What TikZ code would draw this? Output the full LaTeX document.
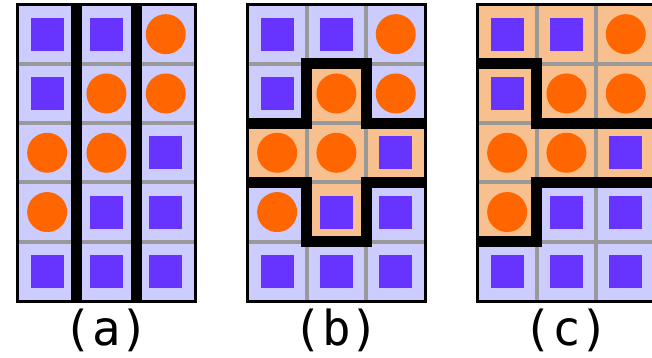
\documentclass[tikz,border=0pt]{standalone}
\usepackage{fontspec}
\newfontfamily\labelfont{DejaVu Sans Mono}
\definecolor{lav}{HTML}{CCCCFF}
\definecolor{peach}{HTML}{F9C08F}
\definecolor{purp}{HTML}{6633FF}
\definecolor{orng}{HTML}{FF6600}
\definecolor{gridgray}{HTML}{999999}
\tikzset{
  gridline/.style={draw=gridgray, line width=4pt},
  cutline/.style={draw=black, line width=11pt, line join=miter, line cap=butt},
  frameline/.style={draw=black, line width=3pt},
  sq/.style={fill=purp},
  dot/.style={fill=orng},
  panellabel/.style={font=\labelfont\fontsize{43}{43}\selectfont, inner sep=0pt, xscale=1.1, yscale=1.12}
}
\begin{document}
\begin{tikzpicture}[x=1pt,y=-1pt]
\useasboundingbox (0,0) rectangle (652,357);
\clip (0,0) rectangle (652,357);
\def\s{59.3}
\def\Y{4.5}
% ---------- backgrounds ----------
\foreach \X in {17.5,247.5,477.5}{
  \fill[lav] (\X,\Y) rectangle ({\X+3*\s},{\Y+5*\s});
}
% panel b orange plus
\def\X{247.5}
\fill[peach] ({\X+\s},{\Y+\s}) rectangle ({\X+2*\s},{\Y+4*\s});
\fill[peach] (\X,{\Y+2*\s}) rectangle ({\X+3*\s},{\Y+3*\s});
% panel c orange
\def\X{477.5}
\fill[peach] (\X,\Y) rectangle ({\X+3*\s},{\Y+3*\s});
\fill[peach] (\X,{\Y+3*\s}) rectangle ({\X+\s},{\Y+4*\s});
% ---------- gray grid lines ----------
\foreach \X in {17.5,247.5,477.5}{
  \foreach \k in {1,2,3,4}{
    \draw[gridline] (\X,{\Y+\k*\s}) -- ({\X+3*\s},{\Y+\k*\s});
  }
}
\foreach \X in {247.5,477.5}{
  \foreach \k in {1,2}{
    \draw[gridline] ({\X+\k*\s},\Y) -- ({\X+\k*\s},{\Y+5*\s});
  }
}
% ---------- symbols ----------
\foreach \X in {17.5,247.5,477.5}{
  \foreach \r/\c in {1/1,1/2,2/1,3/3,4/2,4/3,5/1,5/2,5/3}{
    \fill[sq] ({\X+(\c-0.5)*\s-16.5},{\Y+(\r-0.5)*\s-16.5}) rectangle ++(33,33);
  }
  \foreach \r/\c in {1/3,2/2,2/3,3/1,3/2,4/1}{
    \fill[dot] ({\X+(\c-0.5)*\s},{\Y+(\r-0.5)*\s}) circle[radius=20];
  }
}
% ---------- thick separating lines ----------
\def\X{17.5}
\draw[cutline] ({\X+\s},\Y) -- ({\X+\s},{\Y+5*\s});
\draw[cutline] ({\X+2*\s},\Y) -- ({\X+2*\s},{\Y+5*\s});
\def\X{247.5}
\draw[cutline] (\X,{\Y+2*\s}) -- ({\X+\s},{\Y+2*\s}) -- ({\X+\s},{\Y+\s}) -- ({\X+2*\s},{\Y+\s}) -- ({\X+2*\s},{\Y+2*\s}) -- ({\X+3*\s},{\Y+2*\s});
\draw[cutline] (\X,{\Y+3*\s}) -- ({\X+\s},{\Y+3*\s}) -- ({\X+\s},{\Y+4*\s}) -- ({\X+2*\s},{\Y+4*\s}) -- ({\X+2*\s},{\Y+3*\s}) -- ({\X+3*\s},{\Y+3*\s});
\def\X{477.5}
\draw[cutline] (\X,{\Y+\s}) -- ({\X+\s},{\Y+\s}) -- ({\X+\s},{\Y+2*\s}) -- ({\X+3*\s},{\Y+2*\s});
\draw[cutline] ({\X+3*\s},{\Y+3*\s}) -- ({\X+\s},{\Y+3*\s}) -- ({\X+\s},{\Y+4*\s}) -- (\X,{\Y+4*\s});
% ---------- frames ----------
\foreach \X in {17.5,247.5,477.5}{
  \draw[frameline] (\X,\Y) rectangle ({\X+3*\s},{\Y+5*\s});
}
% ---------- labels ----------
\node[panellabel] (labA) at (106.5,330.5) {(a)};
\node[panellabel] (labB) at (336.5,330.5) {(b)};
\node[panellabel] (labC) at (566.5,330.5) {(c)};
\end{tikzpicture}
\end{document}
